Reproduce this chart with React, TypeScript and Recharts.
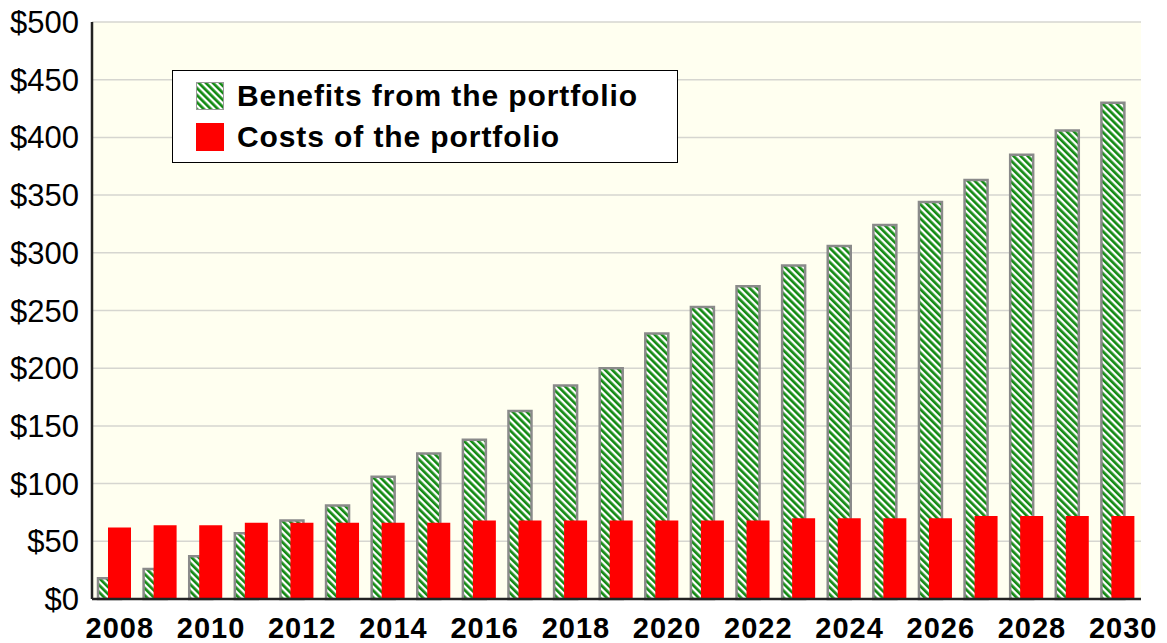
import {
  BarChart,
  Bar,
  XAxis,
  YAxis,
  CartesianGrid,
  Legend,
} from "recharts";

const years = [
  "2008", "2009", "2010", "2011", "2012", "2013", "2014", "2015",
  "2016", "2017", "2018", "2019", "2020", "2021", "2022", "2023",
  "2024", "2025", "2026", "2027", "2028", "2029", "2030",
];

const benefits = [
  18, 26, 37, 57, 68, 81, 106, 126, 138, 163, 185, 200, 230, 253, 271,
  289, 306, 324, 344, 363, 385, 406, 430,
];

const costs = [
  62, 64, 64, 66, 66, 66, 66, 66, 68, 68, 68, 68, 68, 68, 68, 70, 70, 70,
  70, 72, 72, 72, 72,
];

const yTicks = [0, 50, 100, 150, 200, 250, 300, 350, 400, 450, 500];

const seriesNames = ["Benefits from the portfolio", "Costs of the portfolio"];

const data = years.map((year, i) => ({
  year,
  benefits: benefits[i],
  costs: costs[i],
}));

const green = "#138a13";
const red = "#ff0000";
const font = '"Liberation Sans", Arial, sans-serif';

function Hatch({ id }: { id: string }) {
  return (
    <pattern
      id={id}
      patternUnits="userSpaceOnUse"
      width={5}
      height={5}
      patternTransform="rotate(-45)"
    >
      <rect x={0} y={0} width={5} height={5} fill="#ffffff" />
      <rect x={0} y={0} width={2.7} height={5} fill={green} />
    </pattern>
  );
}

function LegendBox() {
  const row = { display: "flex", alignItems: "center", height: 41 };
  const label = {
    fontFamily: font,
    fontWeight: 700,
    fontSize: 30,
    letterSpacing: 0.9,
    color: "#000",
    marginLeft: 13,
    whiteSpace: "nowrap" as const,
  };
  return (
    <div
      style={{
        width: 506,
        height: 93,
        border: "1px solid #000",
        background: "#fff",
        boxSizing: "border-box",
        padding: "4px 0 0 23px",
      }}
    >
      <div style={row}>
        <svg width={28} height={28}>
          <defs>
            <Hatch id="hatchLegend" />
          </defs>
          <rect x={0.5} y={0.5} width={27} height={27} fill="url(#hatchLegend)" stroke="#999" />
        </svg>
        <span style={label}>{seriesNames[0]}</span>
      </div>
      <div style={row}>
        <svg width={28} height={28}>
          <rect x={0} y={0} width={28} height={28} fill={red} />
        </svg>
        <span style={label}>{seriesNames[1]}</span>
      </div>
    </div>
  );
}

export default function App() {
  return (
    <div style={{ margin: "-8px 0 0 -8px" }}>
      <BarChart
        width={1167}
        height={643}
        data={data}
        margin={{ top: 22, right: 26, bottom: 0, left: 0 }}
        barSize={23}
        barGap={-13}
      >
        <defs>
          <Hatch id="hatchBar" />
        </defs>
        <CartesianGrid
          vertical={false}
          stroke="#d6d6d0"
          strokeWidth={1.5}
          fill="#fffff0"
        />
        <XAxis
          dataKey="year"
          interval={1}
          tickLine={false}
          axisLine={{ stroke: "#222", strokeWidth: 2.5 }}
          height={44}
          tickMargin={12}
          tick={{
            fill: "#000",
            fontSize: 29,
            fontWeight: 700,
            fontFamily: font,
            dx: 5,
            letterSpacing: 1,
          }}
        />
        <XAxis
          xAxisId="top"
          orientation="top"
          dataKey="year"
          height={0}
          tick={false}
          tickLine={false}
          axisLine={{ stroke: "#222", strokeWidth: 2.5 }}
        />
        <YAxis
          domain={[0, 500]}
          ticks={yTicks}
          width={92}
          tickLine={false}
          axisLine={{ stroke: "#222", strokeWidth: 2.5 }}
          tickMargin={7}
          tickFormatter={(v: number) => `$${v}`}
          tick={{ fill: "#000", fontSize: 31, fontFamily: font }}
        />
        <YAxis
          yAxisId="right"
          orientation="right"
          width={0}
          domain={[0, 500]}
          tick={false}
          tickLine={false}
          axisLine={{ stroke: "#222", strokeWidth: 2.5 }}
        />
        <Legend
          layout="horizontal"
          verticalAlign="middle"
          align="center"
          content={() => <LegendBox />}
          wrapperStyle={{ top: 70, left: 172, width: 506, height: 93 }}
        />
        <Bar
          dataKey="benefits"
          name={seriesNames[0]}
          fill="url(#hatchBar)"
          stroke="#8a8a8a"
          strokeWidth={2.5}
          isAnimationActive={false}
        />
        <Bar
          dataKey="costs"
          name={seriesNames[1]}
          fill={red}
          isAnimationActive={false}
        />
      </BarChart>
    </div>
  );
}
